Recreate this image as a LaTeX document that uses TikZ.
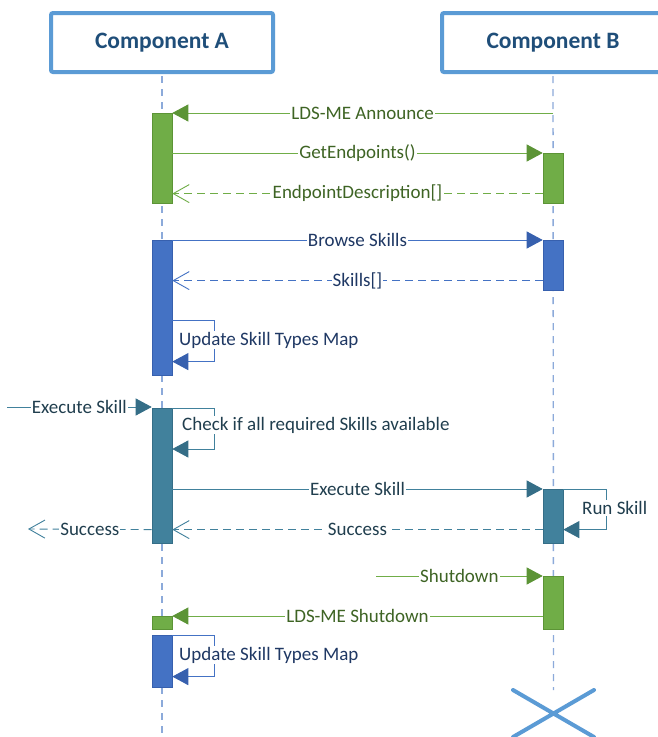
\documentclass[tikz,border=0pt]{standalone}
\usepackage{fontspec}
\setmainfont{Carlito}
\usetikzlibrary{arrows.meta,positioning,shapes.misc}
\definecolor{hdblue}{RGB}{91,155,213}
\definecolor{hdtext}{RGB}{31,78,121}
\definecolor{lifeblue}{RGB}{140,170,218}
\definecolor{sqgreen}{RGB}{112,173,71}
\definecolor{sqgreendk}{RGB}{92,148,54}
\definecolor{sqgreentx}{RGB}{62,100,36}
\definecolor{sqblue}{RGB}{68,114,196}
\definecolor{sqbluedk}{RGB}{55,96,174}
\definecolor{sqbluetx}{RGB}{31,56,100}
\definecolor{sqteal}{RGB}{65,129,156}
\definecolor{sqtealdk}{RGB}{53,110,135}
\definecolor{sqtealtx}{RGB}{32,62,78}

\begin{document}
\begin{tikzpicture}[x=1pt, y=-1pt,
  head/.style={draw=hdblue, line width=4pt, rounded corners=2pt,
    minimum width=222pt, minimum height=59pt, text=hdtext,
    font=\fontsize{23.5pt}{28pt}\selectfont\bfseries},
  kill/.style={cross out, draw=hdblue, line width=4pt, line cap=round,
    minimum width=77pt, minimum height=43pt, inner sep=0pt},
  life/.style={draw=lifeblue, line width=1.4pt, dash pattern=on 7pt off 6pt},
  bar/.style={draw, line width=0.6pt, minimum width=20pt, inner sep=0pt, anchor=north},
  grnbar/.style={fill=sqgreen, draw=sqgreendk},
  blubar/.style={fill=sqblue, draw=sqbluedk},
  teabar/.style={fill=sqteal, draw=sqtealdk},
  grn/.style={draw=sqgreen, text=sqgreentx, line width=0.9pt},
  blu/.style={draw=sqblue, text=sqbluetx, line width=0.9pt},
  tea/.style={draw=sqteal, text=sqtealtx, line width=0.9pt},
  call/.style={-{Triangle[length=16pt,width=17pt,color=#1]}},
  ret/.style={dash pattern=on 8pt off 5pt, -{Straight Barb[length=16pt,width=18pt]}},
  msg/.style={font=\fontsize{19pt}{23pt}\selectfont, fill=white, inner sep=1pt}]
\useasboundingbox[fill=white] (0,0) rectangle (658,737);
% Heads
\node[head] (cA) at (162,42.5) {Component A};
\node[head] (cB) at (553,42.5) {Component B};
\node[kill] (xB) at (553.5,713.5) {};
% Lifelines
\coordinate (endA) at (162,737);
\draw[life] ([yshift=-2pt]cA.south) -- (endA);
\draw[life] ([yshift=-2pt]cB.south) -- (xB.north);
% Activations
\node[bar, grnbar, minimum height=90pt] (bA1) at (162,113) {};
\node[bar, grnbar, minimum height=50pt] (bB1) at (553,153) {};
\node[bar, blubar, minimum height=135pt] (bA2) at (162,240) {};
\node[bar, blubar, minimum height=50pt] (bB2) at (553,240) {};
\node[bar, teabar, minimum height=135pt] (bA3) at (162,408) {};
\node[bar, teabar, minimum height=54pt] (bB3) at (553,489) {};
\node[bar, grnbar, minimum height=53pt] (bB4) at (553,576) {};
\node[bar, grnbar, minimum height=13pt] (bA4) at (162,616) {};
\node[bar, blubar, minimum height=52pt] (bA5) at (162,635) {};
% Discovery
\draw[grn, call=sqgreendk] (cB.south |- bA1.north) -- (bA1.north east)
  node[msg, midway] (mAnn) {LDS-ME Announce};
\draw[grn, call=sqgreendk] (bA1.east |- bB1.north) -- (bB1.north west)
  node[msg, midway] (mGet) {GetEndpoints()};
\draw[grn, ret] ([yshift=10pt]bB1.south west) coordinate (rEp) -- (bA1.east |- rEp)
  node[msg, midway] (mEp) {EndpointDescription[]};
% Browsing
\draw[blu, call=sqbluedk] (bA2.north east) -- (bB2.north west)
  node[msg, midway] (mBrowse) {Browse Skills};
\draw[blu, ret] ([yshift=10pt]bB2.south west) coordinate (rSk) -- (bA2.east |- rSk)
  node[msg, midway] (mSk) {Skills[]};
\draw[blu, call=sqbluedk] ([yshift=-80pt]bA2.north east) -- ++(42,0)
  |- ([yshift=14pt]bA2.south east);
\node[msg, anchor=west, text=sqbluetx] (mUpd1) at (178,340) {Update Skill Types Map};
% Execution
\coordinate (exIn) at (7,407);
\coordinate (exOut) at (28,529);
\draw[tea, call=sqtealdk] (exIn) -- (exIn -| bA3.west)
  node[msg, midway] (mExIn) {Execute Skill};
\draw[tea, call=sqtealdk] (bA3.north east) -- ++(42,0)
  |- ([yshift=-41pt]bA3.north east);
\node[msg, anchor=west, text=sqtealtx] (mChk) at (181,425) {Check if all required Skills available};
\draw[tea, call=sqtealdk] (bA3.east |- bB3.north) -- (bB3.north west)
  node[msg, midway] (mEx) {Execute Skill};
\draw[tea, call=sqtealdk] (bB3.north east) -- ++(43,0)
  |- ([yshift=14pt]bB3.south east);
\node[msg, anchor=west, text=sqtealtx] (mRun) at (581,508) {Run Skill};
\draw[tea, ret] ([yshift=14pt]bB3.south west) -- ([yshift=14pt]bA3.south east)
  node[msg, midway] (mOk1) {Success};
\draw[tea, ret] ([yshift=14pt]bA3.south west) -- (exOut)
  node[msg, midway] (mOk2) {Success};
% Shutdown
\coordinate (sdIn) at (376,576);
\draw[grn, call=sqgreendk] (sdIn) -- (bB4.north west)
  node[msg, midway] (mSd) {Shutdown};
\draw[grn, call=sqgreendk] (bB4.west |- bA4.north) -- (bA4.north east)
  node[msg, midway] (mLdsSd) {LDS-ME Shutdown};
\draw[blu, call=sqbluedk] (bA5.north east) -- ++(42,0)
  |- ([yshift=11pt]bA5.south east);
\node[msg, anchor=west, text=sqbluetx] (mUpd2) at (178,655) {Update Skill Types Map};
\end{tikzpicture}
\end{document}
